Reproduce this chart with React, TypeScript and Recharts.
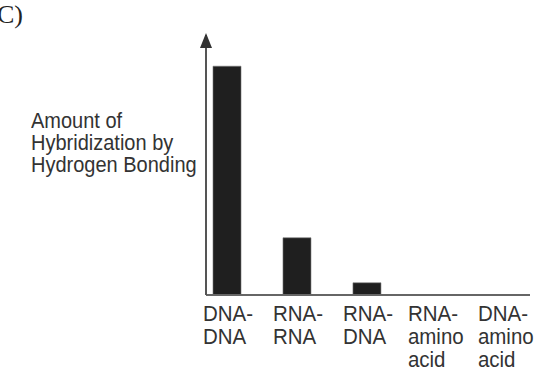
import React from 'react';
import { BarChart, Bar, XAxis, YAxis } from 'recharts';

const categories: string[] = ['DNA-\nDNA', 'RNA-\nRNA', 'RNA-\nDNA', 'RNA-\namino\nacid', 'DNA-\namino\nacid'];
const hybridization: number[] = [88, 22, 4.7, 0, 0];
const panelLabel = 'C)';
const yLabelLines: string[] = ['Amount of', 'Hybridization by', 'Hydrogen Bonding'];

const data = categories.map((c, i) => ({ idx: i, name: c, value: hybridization[i] }));

const FONT = '"Liberation Sans", Arial, Helvetica, sans-serif';

const Tick = (props: any) => {
  const { x, y, payload } = props;
  const label = categories[payload.value] ?? '';
  const lines = label.split('\n');
  const longest = Math.max(...lines.map((l) => l.length));
  const off = longest >= 5 ? 29 : 24;
  return (
    <g transform={`translate(0,${y}) scale(1,1.1) translate(0,${-y})`}>
      <text x={x - off} y={y} fill="#333" fontSize={20.5} fontFamily={FONT} textAnchor="start">
        {lines.map((l, i) => (
          <tspan key={i} x={x - off} dy={i === 0 ? 16.4 : 20.9}>
            {l}
          </tspan>
        ))}
      </text>
    </g>
  );
};

export default function App() {
  return (
    <div style={{ position: 'absolute', left: 0, top: 0, width: 541, height: 377, background: '#fff', overflow: 'hidden' }}>
      <BarChart
        width={541}
        height={377}
        data={data}
        margin={{ top: 35, right: 11, bottom: 0, left: 196 }}
      >
        <defs>
          <marker
            id="arrowHead"
            viewBox="0 0 15 12"
            refX="13"
            refY="6"
            markerWidth="15"
            markerHeight="12"
            markerUnits="userSpaceOnUse"
            orient="auto-start-reverse"
          >
            <path d="M0,0 L15,6 L0,12 z" fill="#333" />
          </marker>
        </defs>
        <XAxis
          dataKey="idx"
          type="number"
          domain={[-0.3, 4.33]}
          ticks={[0, 1, 2, 3, 4]}
          allowDataOverflow
          axisLine={{ stroke: '#666', strokeWidth: 2 }}
          tickLine={false}
          tick={<Tick />}
          interval={0}
          height={82}
        />
        <YAxis
          domain={[0, 100]}
          width={10}
          tick={false}
          tickLine={false}
          axisLine={{ stroke: '#555', strokeWidth: 2, markerStart: 'url(#arrowHead)' }}
        />
        <Bar dataKey="value" barSize={28} fill="#1f1f1f" stroke="#777" strokeWidth={0.6} isAnimationActive={false} />
      </BarChart>
      <div
        style={{
          position: 'absolute',
          left: -3,
          top: 0,
          fontFamily: '"Liberation Serif", "DejaVu Serif", serif',
          fontSize: 26,
          color: '#222',
          lineHeight: '30px',
        }}
      >
        {panelLabel}
      </div>
      <div
        style={{
          position: 'absolute',
          left: 31,
          top: 109,
          fontFamily: FONT,
          fontSize: 20,
          lineHeight: '20px',
          color: '#333',
          whiteSpace: 'nowrap',
          transform: 'scale(1, 1.1)',
          transformOrigin: '0 0',
        }}
      >
        {yLabelLines.map((l, i) => (
          <div key={i}>{l}</div>
        ))}
      </div>
    </div>
  );
}
